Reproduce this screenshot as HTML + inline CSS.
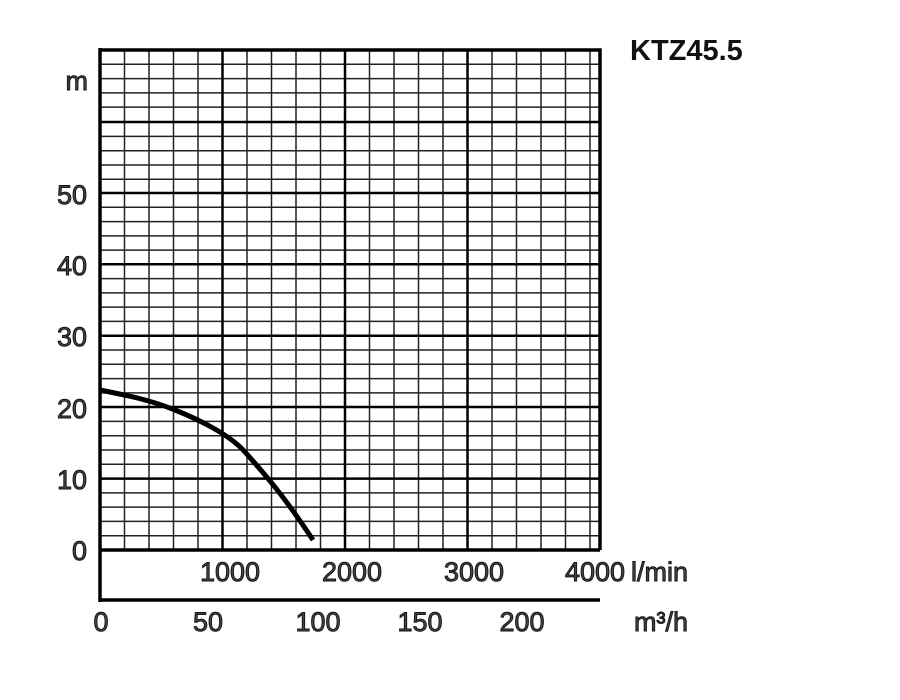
<!DOCTYPE html>
<html><head><style>body{margin:0;background:#fff}svg{display:block}</style></head><body>
<svg width="900" height="700" xmlns="http://www.w3.org/2000/svg" font-family="Liberation Sans, sans-serif">
<rect width="900" height="700" fill="#fff"/>
<g stroke="#222" stroke-width="1.5">
<path d="M124.5 50V550M149 50V550M173.5 50V550M198 50V550M247 50V550M271.5 50V550M296 50V550M320.5 50V550M369.5 50V550M394 50V550M418.5 50V550M443 50V550M492 50V550M516.5 50V550M541 50V550M565.5 50V550M590 50V550"/>
<path d="M100 64.3H600M100 78.6H600M100 92.9H600M100 107.1H600M100 136.4H600M100 150.7H600M100 165H600M100 179.3H600M100 207.3H600M100 221.6H600M100 235.9H600M100 250.1H600M100 278.6H600M100 292.9H600M100 307.1H600M100 321.4H600M100 350H600M100 364.3H600M100 378.6H600M100 392.9H600M100 421.4H600M100 435.7H600M100 450H600M100 464.3H600M100 492.9H600M100 507.1H600M100 521.4H600M100 535.7H600"/>
</g>
<g stroke="#000" stroke-width="2.5">
<path d="M222.5 50V550M345 50V550M467.5 50V550"/>
<path d="M100 122H600M100 193H600M100 264.3H600M100 335.7H600M100 407H600M100 478.6H600"/>
</g>
<g stroke="#000" stroke-width="3.5" fill="none">
<path d="M100 50H600V550M100 48V602M100 550H600M100 600H600"/>
<path d="M100 390 C130 396,150 400,175 410 S230 435,245 452 S280 490,313 540" stroke-width="5"/>
</g>
<g font-size="27" fill="#444" stroke="#111" stroke-width="0.9" text-anchor="end">
<text x="88" y="90">m</text>
<text x="87" y="204">50</text>
<text x="87" y="275">40</text>
<text x="87" y="346">30</text>
<text x="87" y="418">20</text>
<text x="87" y="489">10</text>
<text x="87" y="560">0</text>
</g>
<g font-size="27" fill="#444" stroke="#111" stroke-width="0.9" text-anchor="middle">
<text x="230" y="581">1000</text>
<text x="352" y="581">2000</text>
<text x="474" y="581">3000</text>
<text x="595" y="581">4000</text>
<text x="101" y="631">0</text>
<text x="208" y="631">50</text>
<text x="318" y="631">100</text>
<text x="420" y="631">150</text>
<text x="522" y="631">200</text>
</g>
<text x="631" y="581" font-size="27" fill="#444" stroke="#111" stroke-width="0.9">l/min</text>
<text x="634" y="631" font-size="27" fill="#444" stroke="#111" stroke-width="0.9">m³/h</text>
<text x="630" y="60" font-size="29" font-weight="bold" fill="#111">KTZ45.5</text>
</svg>
</body></html>
